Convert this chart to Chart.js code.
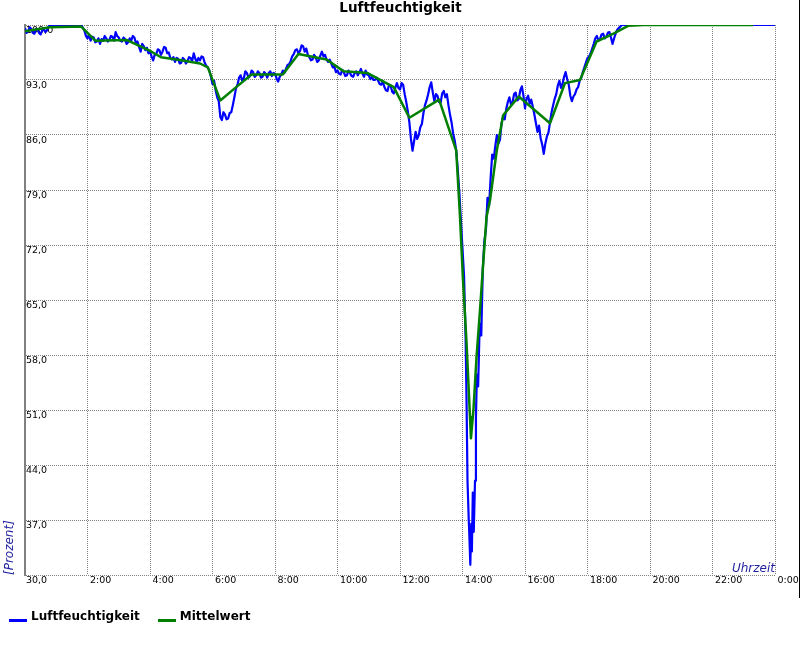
<!DOCTYPE html>
<html>
<head>
<meta charset="utf-8">
<title>Luftfeuchtigkeit</title>
<script src="https://cdn.jsdelivr.net/npm/chart.js@4.4.1/dist/chart.umd.min.js"></script>
<style>
  html, body { margin: 0; padding: 0; background: #fff; overflow: hidden; }
  #wrap { position: relative; width: 800px; height: 650px; }
  #edge { position: absolute; left: 799px; top: 0; width: 1px; height: 598px; background: #000; }
</style>
</head>
<body>
<div id="wrap">
  <canvas id="chart" width="800" height="650"></canvas>
  <div id="edge"></div>
</div>
<script>
// Measured humidity (time in hours, value in percent)
const humidityTimes = [
  0.0, 0.05, 0.1, 0.15, 0.2, 0.25, 0.3, 0.35, 0.4, 0.45,
  0.5, 0.55, 0.6, 0.65, 0.7, 0.75, 0.8, 0.9, 1.0, 1.2,
  1.4, 1.6, 1.8, 1.9, 1.95, 2.0, 2.05, 2.1, 2.15, 2.2,
  2.25, 2.3, 2.35, 2.4, 2.45, 2.5, 2.55, 2.6, 2.65, 2.7,
  2.75, 2.8, 2.85, 2.9, 2.95, 3.0, 3.05, 3.1, 3.15, 3.2,
  3.25, 3.3, 3.35, 3.4, 3.45, 3.5, 3.55, 3.6, 3.65, 3.7,
  3.75, 3.8, 3.85, 3.9, 3.95, 4.0, 4.05, 4.1, 4.15, 4.2,
  4.25, 4.3, 4.35, 4.4, 4.45, 4.5, 4.55, 4.6, 4.65, 4.7,
  4.75, 4.8, 4.85, 4.9, 4.95, 5.0, 5.05, 5.1, 5.15, 5.2,
  5.25, 5.3, 5.35, 5.4, 5.45, 5.5, 5.55, 5.6, 5.65, 5.7,
  5.75, 5.8, 5.85, 5.9, 5.95, 6.0, 6.05, 6.1, 6.15, 6.2,
  6.25, 6.3, 6.35, 6.4, 6.45, 6.5, 6.55, 6.6, 6.65, 6.7,
  6.75, 6.8, 6.85, 6.9, 6.95, 7.0, 7.05, 7.1, 7.15, 7.2,
  7.25, 7.3, 7.35, 7.4, 7.45, 7.5, 7.55, 7.6, 7.65, 7.7,
  7.75, 7.8, 7.85, 7.9, 7.95, 8.0, 8.05, 8.1, 8.15, 8.2,
  8.25, 8.3, 8.35, 8.4, 8.45, 8.5, 8.55, 8.6, 8.65, 8.7,
  8.75, 8.8, 8.85, 8.9, 8.95, 9.0, 9.05, 9.1, 9.15, 9.2,
  9.25, 9.3, 9.35, 9.4, 9.45, 9.5, 9.55, 9.6, 9.65, 9.7,
  9.75, 9.8, 9.85, 9.9, 9.95, 10.0, 10.05, 10.1, 10.15, 10.2,
  10.25, 10.3, 10.35, 10.4, 10.45, 10.5, 10.55, 10.6, 10.65, 10.7,
  10.75, 10.8, 10.85, 10.9, 10.95, 11.0, 11.05, 11.1, 11.15, 11.2,
  11.25, 11.3, 11.35, 11.4, 11.45, 11.5, 11.55, 11.6, 11.65, 11.7,
  11.75, 11.8, 11.85, 11.9, 11.95, 12.0, 12.05, 12.1, 12.15, 12.2,
  12.25, 12.3, 12.35, 12.4, 12.45, 12.5, 12.55, 12.6, 12.65, 12.7,
  12.75, 12.8, 12.85, 12.9, 12.95, 13.0, 13.05, 13.1, 13.15, 13.2,
  13.25, 13.3, 13.35, 13.4, 13.45, 13.5, 13.55, 13.6, 13.65, 13.7,
  13.75, 13.8, 13.85, 13.9, 13.95, 14.0, 14.05, 14.1, 14.13, 14.16,
  14.2, 14.22, 14.25, 14.28, 14.3, 14.33, 14.36, 14.4, 14.43, 14.46,
  14.5, 14.55, 14.6, 14.65, 14.7, 14.75, 14.8, 14.85, 14.9, 14.95,
  15.0, 15.05, 15.1, 15.15, 15.2, 15.25, 15.3, 15.35, 15.4, 15.45,
  15.5, 15.55, 15.6, 15.65, 15.7, 15.75, 15.8, 15.85, 15.9, 15.95,
  16.0, 16.05, 16.1, 16.15, 16.2, 16.25, 16.3, 16.35, 16.4, 16.45,
  16.5, 16.55, 16.6, 16.65, 16.7, 16.75, 16.8, 16.85, 16.9, 16.95,
  17.0, 17.05, 17.1, 17.15, 17.2, 17.25, 17.3, 17.35, 17.4, 17.45,
  17.5, 17.55, 17.6, 17.65, 17.7, 17.75, 17.8, 17.85, 17.9, 17.95,
  18.0, 18.05, 18.1, 18.15, 18.2, 18.25, 18.3, 18.35, 18.4, 18.45,
  18.5, 18.55, 18.6, 18.65, 18.7, 18.75, 18.8, 18.85, 18.9, 18.95,
  19.0, 19.1, 24.0
];
const humidityValues = [
  99.6, 99.0, 99.2, 99.7, 99.5, 99.0, 98.9, 99.5, 99.4, 99.0,
  98.8, 99.3, 99.5, 99.1, 99.3, 99.8, 99.9, 100, 99.9, 100,
  100, 99.9, 100, 99.3, 98.6, 98.3, 98.7, 98.0, 98.5, 98.4,
  97.8, 97.9, 98.3, 97.6, 98.2, 98.0, 98.6, 98.3, 97.9, 98.1,
  98.6, 98.5, 98.0, 99.1, 98.6, 98.4, 98.0, 97.9, 98.4, 98.2,
  97.6, 97.8, 98.3, 98.0, 98.6, 98.4, 97.7, 97.9, 97.2, 96.6,
  97.6, 97.3, 96.8, 97.1, 96.4, 96.6, 96.0, 95.5, 96.2, 96.3,
  96.9, 96.8, 96.2, 96.6, 97.2, 97.1, 96.4, 96.5, 95.8, 95.6,
  95.9, 95.3, 95.8, 95.7, 95.1, 95.2, 95.8, 95.6, 95.1, 95.4,
  95.9, 95.8, 95.4, 96.4, 95.7, 95.3, 95.8, 95.5, 96.0, 95.9,
  95.2, 94.8, 94.6, 94.2, 93.4, 92.5, 92.9, 91.7, 90.8, 90.3,
  88.3, 87.9, 88.9, 88.6, 88.0, 88.1, 88.8, 88.9, 89.8, 90.8,
  91.9, 92.4, 93.3, 93.6, 92.9, 93.2, 94.1, 93.9, 93.3, 93.5,
  94.2, 94.0, 93.4, 93.6, 94.1, 93.9, 93.3, 93.4, 94.0, 93.8,
  93.3, 93.9, 94.1, 93.5, 93.9, 93.8, 93.2, 92.8, 93.4, 93.7,
  94.2, 93.9, 94.4, 94.9, 95.0, 95.4, 96.0, 96.3, 96.8, 96.9,
  96.4, 96.7, 97.4, 97.3, 96.6, 97.0, 96.2, 95.9, 95.5, 95.6,
  96.2, 95.9, 95.3, 95.5, 96.1, 96.6, 96.0, 96.2, 95.6, 95.3,
  95.6, 95.1, 94.6, 94.7, 94.0, 94.2, 93.8, 93.7, 94.3, 94.0,
  93.5, 93.6, 94.2, 93.9, 93.5, 93.4, 93.9, 94.1, 93.6, 94.0,
  94.4, 93.8, 93.4, 94.2, 93.7, 93.6, 93.1, 93.4, 93.0, 93.0,
  93.3, 92.9, 92.5, 92.4, 92.8, 92.1, 91.7, 91.6, 92.4, 92.3,
  91.5, 91.3, 92.0, 92.6, 92.0, 91.8, 92.6, 92.4, 91.2, 90.2,
  89.0, 87.6, 85.5, 84.0, 85.2, 86.4, 85.5, 86.0, 87.0, 87.4,
  88.8, 89.8, 90.4, 91.2, 92.1, 92.7, 91.4, 90.3, 91.2, 91.0,
  90.2, 90.1, 91.3, 91.6, 90.8, 91.2, 89.8, 88.6, 87.6, 86.2,
  85.3, 84.0, 81.5, 78.6, 75.0, 71.5, 68.0, 60.0, 52.0, 42.0,
  37.0, 35.0, 31.3, 36.5, 33.0, 40.5, 35.5, 42.0, 50.0, 55.5,
  54.0, 62.0, 60.5, 69.0, 72.5, 74.0, 78.0, 77.0, 80.5, 83.5,
  83.0, 84.6, 86.0, 84.9, 85.4, 87.5, 88.4, 88.0, 89.3, 90.2,
  90.8, 89.9, 90.1, 91.2, 91.4, 90.4, 90.6, 91.7, 92.2, 91.0,
  89.4, 90.6, 91.0, 90.0, 90.5, 89.6, 88.6, 87.5, 86.4, 87.2,
  85.6, 84.8, 83.6, 84.9, 85.8, 86.3, 87.6, 88.9, 89.8, 90.6,
  91.2, 92.3, 92.9, 92.0, 92.5, 93.4, 94.0, 93.1, 92.4, 91.0,
  90.3, 90.9, 91.2, 91.8, 92.1, 92.9, 93.3, 94.0, 94.6, 95.2,
  95.8, 96.0, 96.4, 97.0, 97.6, 98.3, 98.6, 98.0, 98.2, 98.8,
  98.9, 98.3, 98.5, 99.0, 99.1, 98.4, 97.6, 98.3, 98.9, 99.4,
  99.6, 100, 100
];

// Mean value line
const meanTimes = [
  0.0, 0.8, 1.8, 2.25, 3.25, 4.05, 4.35, 5.0, 5.6, 5.85,
  6.25, 6.7, 7.25, 8.25, 8.75, 9.65, 10.2, 10.95, 11.8, 12.3,
  13.25, 13.8, 13.92, 14.01, 14.13, 14.24, 14.27, 14.35, 14.45, 14.56,
  14.67, 14.77, 14.88, 15.1, 15.3, 15.8, 16.8, 17.28, 17.76, 18.29,
  18.83, 19.3, 19.8, 23.3
];
const meanValues = [
  99.2, 99.7, 99.8, 98.0, 98.1, 96.6, 95.9, 95.5, 95.1, 94.6,
  90.4, 91.9, 93.7, 93.7, 96.3, 95.6, 94.1, 93.9, 92.1, 88.2,
  90.5, 84.0, 75.6, 68.0, 59.5, 50.1, 47.4, 51.0, 57.8, 63.7,
  70.1, 75.6, 77.7, 84.1, 88.5, 90.9, 87.5, 92.6, 93.0, 97.9,
  98.9, 99.9, 100, 100
];

// Axis ticks
const xTickValues = [0, 2, 4, 6, 8, 10, 12, 14, 16, 18, 20, 22, 24];
const xTickLabels = ['', '2:00', '4:00', '6:00', '8:00', '10:00', '12:00', '14:00', '16:00', '18:00', '20:00', '22:00', '0:00'];
const yTickValues = [30, 37, 44, 51, 58, 65, 72, 79, 86, 93, 100];
const yTickLabels = ['30,0', '37,0', '44,0', '51,0', '58,0', '65,0', '72,0', '79,0', '86,0', '93,0', '100,0'];

const toPoints = (xs, ys) => xs.map((x, i) => ({ x: x, y: ys[i] }));

// small canvas used as legend symbol: a short thick line sitting low
function legendLine(color) {
  const c = document.createElement('canvas');
  c.width = 18;
  c.height = 12;
  const g = c.getContext('2d');
  g.fillStyle = color;
  g.fillRect(0, 8, 18, 3);
  return c;
}

// axis captions inside the plot
const axisNotes = {
  id: 'axisNotes',
  afterDraw(chart) {
    const { ctx, chartArea } = chart;
    ctx.save();
    ctx.fillStyle = '#1f1f9f';
    ctx.font = 'italic 12px "DejaVu Sans"';
    ctx.textBaseline = 'alphabetic';
    ctx.textAlign = 'right';
    ctx.fillText('Uhrzeit', chartArea.right, chartArea.bottom - 3);
    ctx.translate(chartArea.left - 12.5, chartArea.bottom);
    ctx.rotate(-Math.PI / 2);
    ctx.textAlign = 'left';
    ctx.fillText('[Prozent]', 0, 0);
    ctx.restore();
  }
};

Chart.defaults.font.family = '"DejaVu Sans", sans-serif';

const tickFont = { family: '"DejaVu Sans", sans-serif', size: 9.5 };

new Chart(document.getElementById('chart'), {
  type: 'line',
  data: {
    datasets: [
      {
        label: 'Luftfeuchtigkeit',
        data: toPoints(humidityTimes, humidityValues),
        borderColor: '#0000ff',
        backgroundColor: '#0000ff',
        borderWidth: 2.2,
        order: 1
      },
      {
        label: 'Mittelwert',
        data: toPoints(meanTimes, meanValues),
        borderColor: '#008000',
        backgroundColor: '#008000',
        borderWidth: 2.5,
        order: 0
      }
    ]
  },
  options: {
    responsive: false,
    animation: false,
    devicePixelRatio: 1,
    layout: { padding: { left: -9, right: -10, top: 0, bottom: 17 } },
    elements: {
      point: { radius: 0, hoverRadius: 0 },
      line: { tension: 0, fill: false, borderJoinStyle: 'round' }
    },
    scales: {
      x: {
        type: 'linear',
        min: 0,
        max: 24,
        afterBuildTicks: s => { s.ticks = xTickValues.map(v => ({ value: v })); },
        afterFit: s => { s.height = 16; s.paddingRight = 25; },
        ticks: {
          autoSkip: false,
          maxRotation: 0,
          align: 'start',
          padding: 0,
          labelOffset: 2.5,
          color: '#000',
          font: tickFont,
          callback: (v, i) => xTickLabels[i]
        },
        grid: { color: '#808080', lineWidth: 1, drawTicks: false },
        border: { display: false, dash: [1, 1] }
      },
      y: {
        min: 30,
        max: 100,
        afterBuildTicks: s => { s.ticks = yTickValues.map(v => ({ value: v })); },
        afterFit: s => { s.width = 34; },
        ticks: {
          mirror: true,
          padding: 1,
          labelOffset: 6,
          color: '#000',
          font: tickFont,
          callback: (v, i) => yTickLabels[i]
        },
        grid: { color: '#808080', lineWidth: 1, drawTicks: false },
        border: { display: true, color: '#808080', width: 2, dash: [1, 1] }
      }
    },
    plugins: {
      title: {
        display: true,
        text: 'Luftfeuchtigkeit',
        color: '#000',
        font: { size: 13.5, weight: 'bold' },
        padding: { top: 0, bottom: 8.8 }
      },
      legend: {
        position: 'bottom',
        align: 'start',
        labels: {
          usePointStyle: true,
          pointStyleWidth: 14,
          boxHeight: 12,
          padding: 20,
          color: '#000',
          font: { size: 12, weight: 'bold' },
          sort: (a, b) => a.datasetIndex - b.datasetIndex,
          generateLabels: chart => Chart.defaults.plugins.legend.labels.generateLabels(chart).map(item => ({
            ...item,
            pointStyle: legendLine(item.strokeStyle),
            lineWidth: 0
          }))
        }
      },
      tooltip: { enabled: false }
    }
  },
  plugins: [axisNotes]
});
</script>
</body>
</html>
